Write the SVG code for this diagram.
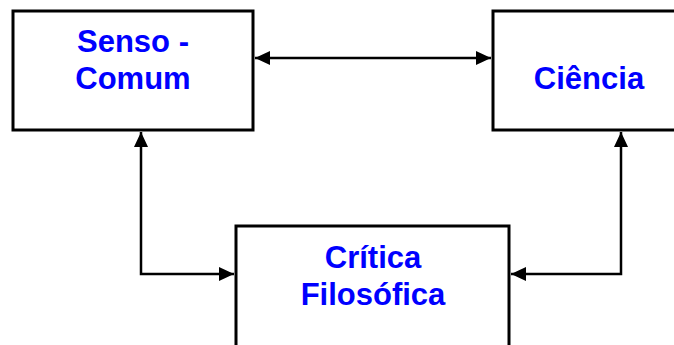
<svg xmlns="http://www.w3.org/2000/svg" width="674" height="345" viewBox="0 0 674 345">
<style>
.box{fill:#fff;stroke:#000;stroke-width:3}
.lbl{font-family:"Liberation Sans",Arial,sans-serif;font-weight:bold;font-size:31px;fill:#0000FF;text-anchor:middle}
.con{fill:none;stroke:#000;stroke-width:2.5;marker-start:url(#ah);marker-end:url(#ah)}
</style>
<defs>
<marker id="ah" viewBox="0 0 15 14" refX="15" refY="7" markerWidth="15" markerHeight="14" markerUnits="userSpaceOnUse" orient="auto-start-reverse">
<path d="M0,0 L15,7 L0,14 Z" fill="#000"/>
</marker>
</defs>
<rect width="674" height="345" fill="#fff"/>
<g id="senso-comum">
<rect class="box" x="13" y="11" width="240" height="119"/>
<text class="lbl" x="133" y="52">Senso -</text>
<text class="lbl" x="133" y="89">Comum</text>
</g>
<g id="ciencia">
<rect class="box" x="493" y="11" width="192" height="119"/>
<text class="lbl" x="589" y="89">Ciência</text>
</g>
<g id="critica-filosofica">
<rect class="box" x="236" y="226" width="273" height="130"/>
<text class="lbl" x="373" y="268">Crítica</text>
<text class="lbl" x="373" y="305">Filosófica</text>
</g>
<g id="connectors">
<path class="con" d="M255,58 L491,58"/>
<path class="con" d="M141,132 L141,274 L234,274"/>
<path class="con" d="M621,132 L621,274 L511,274"/>
</g>
</svg>
